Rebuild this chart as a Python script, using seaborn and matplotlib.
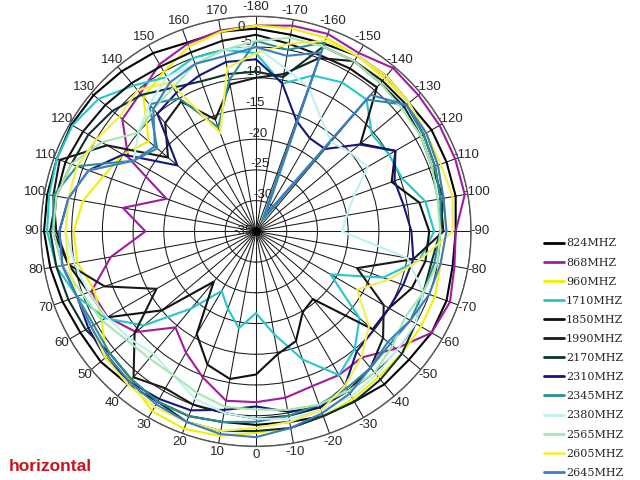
import numpy as np
import pandas as pd
import matplotlib
matplotlib.use("Agg")
import matplotlib.pyplot as plt
import seaborn as sns

# angles in degrees, -180 .. 170 step 10 (loop is closed when drawing)
angles = list(range(-180, 180, 10))

freqs = ["824MHZ", "868MHZ", "960MHZ", "1710MHZ", "1850MHZ", "1990MHZ", "2170MHZ",
         "2310MHZ", "2345MHZ", "2380MHZ", "2565MHZ", "2605MHZ", "2645MHZ"]

colors = ["#000000", "#a01ca0", "#f0f000", "#22c8cc", "#111111", "#1a1a1a", "#0c3328",
          "#17177a", "#2a8f94", "#bff0f2", "#a8e6b0", "#f4ee4c", "#3d7cc4"]

# gain in dB, one value per angle
g824 = [-2, -2.5, -2.5, -2, -2, -2.5, -2, -2, -2, -2.5, -2.5, -2, -2, -2.5, -2.5, -3, -3, -3.5,
        -3.5, -3.5, -3, -3, -2.5, -2, -2, -1.5, -1, -0.5, -0.5, -0.5, -0.3, -0.5, -1, -1.5, -2.3, -2]
g868 = [-1.5, -1, -0.8, -1.5, -0.3, -0.5, -0.5, -0.5, -0.5, -2.5, -2.2, -1.4, -2, -5.3, -8.2, -8, -8.2, -7.5,
        -7.2, -7, -9.7, -12.2, -14.6, -9.5, -7.1, -6.5, -11, -17, -13, -19.5, -11, -6.6, -5.7, -3.6, -2.5, -1.8]
g960 = [-1.5, -1.5, -1.5, -2, -2.5, -2.5, -3, -3.5, -4, -4, -4.5, -4, -4, -4, -4, -3.5, -3, -2.5,
        -2.2, -1.2, -0.8, -1.2, -3.2, -3.2, -6, -7, -5.5, -5.3, -6.4, -8.6, -10, -12.2, -6.5, -5, -3, -2]
g1710 = [-6, -10.6, -8, -7, -7, -10.4, -10, -9.7, -7, -6, -8, -13, -21, -13, -10, -8, -12.8, -18,
         -21.7, -19, -21.6, -23.8, -18.6, -11.2, -6.7, -4, -2, -1, -0.8, -0.5, -0.5, -1.5, -4, -6, -5, -5]
g1850 = [-3, -4, -4.5, -4.4, -4.4, -12.8, -8.8, -11.5, -8, -6.8, -7, -8, -10, -10.2, -20.6, -19.8, -16, -14.7,
         -11.7, -10.6, -11.9, -15.7, -24.3, -15, -7, -6, -4, -2, -2, -2, -2.5, -3, -3.5, -4, -4, -3.5]
g1990 = [-10, -9, -5, -3, -3, -3, -3.5, -4, -4.5, -4.5, -9, -17.5, -11, -8, -6, -5, -4.5, -4.5,
         -4.5, -5, -5, -5.5, -4, -9.2, -16.3, -8.8, -4, -2.5, -1.5, -1, -7, -16.3, -12, -10.6, -15.6, -10.7]
g2170 = [-9, -9.5, -3, -3, -3.5, -3.5, -4, -4.5, -4, -5, -6, -6, -5, -4, -3.5, -3, -3, -2.5,
         -2.5, -2, -2, -3, -3.5, -4, -3, -2.5, -2, -1.5, -2, -3, -3.5, -4.5, -6, -8, -9, -9]
g2310 = [-7, -10.5, -15.8, -17.5, -17.5, -13, -8.8, -11, -10.6, -9.7, -9, -9.5, -10, -10, -9.5, -6, -4.5, -5.2,
         -6.5, -5.5, -4, -3.5, -3, -3, -3.5, -4, -3, -3, -4, -6, -10, -18.3, -10, -9, -8, -7]
g2345 = [-4, -5, -2.2, -33, -7, -3, -3.5, -4, -4.5, -5, -5.5, -6, -6, -6.5, -6, -5.5, -5, -4.5,
         -4, -3.5, -3, -3, -3.5, -4, -4.5, -4, -3, -2, -1.5, -4, -12, -14, -8, -10, -17, -10]
g2380 = [-5, -8, -10, -13.8, -16, -15, -14, -18, -20, -21, -10, -6, -5, -5, -4.5, -4, -4, -4,
         -4.5, -5, -6, -8, -9, -8, -7, -6, -5, -4, -4, -6, -12, -10, -8, -6, -6, -5]
g2565 = [-4, -3, -3, -3, -3.5, -4, -4, -4.5, -5, -5, -5, -6, -7, -6, -5, -5, -5, -5.5,
         -6, -6, -7, -8, -8, -7.5, -6, -5, -3, -2, -2, -3, -6, -10, -9, -8, -6, -5]
g2605 = [-6, -4, -2, -2, -2, -2.5, -3, -3, -2.5, -3, -8, -12, -16, -11, -8.3, -6, -4, -3.5,
         -3, -2, -2, -2, -2.5, -3, -4, -4, -4, -4, -4, -4, -5, -6, -5, -7, -18, -8]
g2645 = [-5, -6, -4, -32, -6, -3, -3, -3.5, -4, -4, -4.5, -5, -6, -7, -6, -4.5, -3.5, -2.5,
         -1.5, -1.5, -2, -2.5, -3, -3.5, -4, -4, -3, -3, -4, -6, -12, -13.5, -9, -7, -6, -6]

gains = [g824, g868, g960, g1710, g1850, g1990, g2170, g2310, g2345, g2380, g2565, g2605, g2645]

rows = []
for f, g in zip(freqs, gains):
    a = angles + [180]
    v = g + [g[0]]
    for ang, val in zip(a, v):
        rows.append({"freq": f, "theta": np.deg2rad(ang), "gain": val})
df = pd.DataFrame(rows)

sns.set_style("white")
plt.rcParams["font.family"] = ["Liberation Sans", "DejaVu Sans"]

fig = plt.figure(figsize=(6.4, 4.8), dpi=100)
ax = fig.add_axes([0.064, 0.07, 0.672, 0.896], projection="polar")
ax.set_theta_zero_location("S")
ax.set_theta_direction(-1)
ax.set_ylim(-35, 0)

sns.lineplot(data=df, x="theta", y="gain", hue="freq", hue_order=freqs,
             palette=dict(zip(freqs, colors)), sort=False, estimator=None,
             errorbar=None, linewidth=1.5, ax=ax, legend=False)

# grid
tick_deg = list(range(0, 360, 10))
tick_lab = [str(t) if t <= 170 else str(t - 360) for t in tick_deg]
ax.set_thetagrids(tick_deg, tick_lab, fontsize=9.5)
ax.tick_params(axis="x", pad=-4)
ax.set_yticks([-35, -30, -25, -20, -15, -10, -5, 0])
ax.set_yticklabels(["", "-30", "-25", "-20", "-15", "-10", "-5", ""], fontsize=9.5)
ax.set_rlabel_position(175)
ax.text(np.deg2rad(176), -1.6, "0", fontsize=9.5, ha="center", va="center")
ax.grid(True, color="#1a1a1a", linewidth=0.75)
ax.spines["polar"].set_color("#555555")
ax.spines["polar"].set_linewidth(1.0)
ax.set_xlabel("")
ax.set_ylabel("")
# dark hub where the spokes meet
ax.plot([0], [-35], marker="o", color="black", markersize=5)
ax.annotate("-35", xy=(0, -35), xytext=(-9, 0), textcoords="offset points",
            fontsize=9.5, ha="center", va="center")

# legend
handles = [plt.Line2D([], [], color=c, lw=2) for c in colors]
fig.legend(handles, freqs, loc="upper left", bbox_to_anchor=(0.835, 0.524),
           frameon=False, prop={"family": "DejaVu Serif", "size": 8},
           labelspacing=0.82, handlelength=1.8, handletextpad=0.15)

fig.text(0.014, 0.029, "horizontal", color="#c8141c", fontsize=12.5, fontweight="bold",
         va="center", ha="left")

fig.savefig("out.png", dpi=100)
